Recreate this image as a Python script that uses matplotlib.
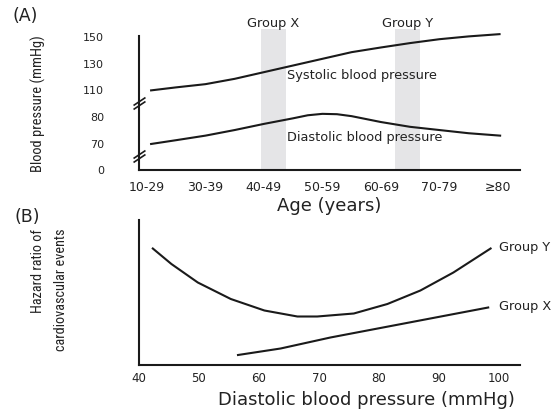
import os
import matplotlib
matplotlib.use("Agg")
import matplotlib.pyplot as plt
from matplotlib import font_manager as fm
from matplotlib.path import Path
import numpy as np

# ---- data ----
age_groups = ['10-29', '30-39', '40-49', '50-59', '60-69', '70-79', '≥80']
bp_ticks = [0, 70, 80, 110, 130, 150]

# curve samples (x = age-group index)
sys_x = [0.07, 0.5, 1, 1.5, 2, 2.5, 3, 3.5, 4, 4.5, 5, 5.5, 6.03]
systolic = [109, 111.6, 114, 118, 123, 128, 133, 138, 141.5, 144.8, 147.7, 149.8, 151.5]
dia_x = [0.07, 0.5, 1, 1.5, 2, 2.5, 2.75, 3.0, 3.25, 3.5, 4, 4.5, 5, 5.5, 6.04]
diastolic = [67, 71, 72.7, 74.8, 77.1, 79.2, 81.0, 82.6, 82.2, 80.0, 77.8, 76.0, 74.8, 73.6, 72.7]

group_names = ['Group X', 'Group Y']
group_band_center = [2.165, 4.457]
group_band_width = 0.43
group_band_top = 155.4

# panel B
dbp_ticks = [40, 50, 60, 70, 80, 90, 100]
grp_y_dbp = [42.3, 45.4, 49.8, 55.3, 60.9, 66.4, 69.7, 75.8, 81.4, 86.9, 92.4, 98.6]
grp_y_hr = [2.33, 2.02, 1.65, 1.32, 1.09, 0.97, 0.97, 1.03, 1.22, 1.49, 1.85, 2.33]
grp_x_dbp = [56.5, 63.6, 71.9, 98.2]
grp_x_hr = [0.20, 0.33, 0.55, 1.15]

ink = '#1a1a1a'


def pick_narrow():
    # first condensed / narrow face that is actually installed
    for fam, st in [('Liberation Sans Narrow', 'normal'), ('Arial Narrow', 'normal'),
                    ('Roboto Condensed', 'normal'), ('Noto Sans', 'condensed'),
                    ('DejaVu Sans', 'condensed')]:
        try:
            p = fm.findfont(fm.FontProperties(family=fam, stretch=st),
                            fallback_to_default=False)
        except Exception:
            continue
        name = os.path.basename(p).lower()
        if 'narrow' in name or 'condensed' in name:
            return fm.FontProperties(fname=p)
    return fm.FontProperties(family='Liberation Sans')


narrow = pick_narrow()

W, H = 559, 410
fig = plt.figure(figsize=(W / 100, H / 100), dpi=100)


def box(l, t, r, b):
    return [l / W, 1 - b / H, (r - l) / W, (b - t) / H]


slots = np.arange(len(bp_ticks), dtype=float)


def to_slot(v):
    v = np.asarray(v, float)
    return np.where(v > 150, 5 + (v - 150) / 20,
                    np.where(v < 0, v / 70, np.interp(v, bp_ticks, slots)))


def from_slot(p):
    p = np.asarray(p, float)
    return np.where(p > 5, 150 + (p - 5) * 20,
                    np.where(p < 0, p * 70, np.interp(p, slots, bp_ticks)))


# ---------------- panel A ----------------
axA = fig.add_axes(box(139, 28, 520, 170.5))
axA.set_yscale('function', functions=(to_slot, from_slot))
axA.bar(group_band_center, group_band_top, width=group_band_width,
        color='#e5e5e7', zorder=0)
axA.plot(sys_x, systolic, color=ink, lw=1.5)
axA.plot(dia_x, diastolic, color=ink, lw=1.5)
axA.set_xlim(-0.137, 6.38)
axA.set_ylim(0, 156.86)
axA.set_xticks(range(len(age_groups)), age_groups)
axA.set_yticks(bp_ticks)
axA.tick_params(axis='x', length=0, pad=7.3, labelsize=9, labelcolor='#222')
axA.tick_params(axis='y', length=0, pad=25, labelsize=8, labelcolor='#222')
for s in ['top', 'right']:
    axA.spines[s].set_visible(False)
axA.spines['left'].set_bounds(0, 150)
for s in ['left', 'bottom']:
    axA.spines[s].set_linewidth(1.5)
    axA.spines[s].set_color(ink)

for name, c in zip(group_names, group_band_center):
    axA.text(c, 1.035, name, transform=axA.get_xaxis_transform(),
             ha='center', va='center', fontsize=9.3, color='#222')
axA.text(2.395, 121.6, 'Systolic blood pressure', ha='left', va='center',
         fontsize=9.3, color='#222')
axA.text(2.395, 72.2, 'Diastolic blood pressure', ha='left', va='center',
         fontsize=9.3, color='#222')

# axis break marks
brk = Path([(-6, -6), (6, 2), (-6, -2), (6, 6)],
           [Path.MOVETO, Path.LINETO, Path.MOVETO, Path.LINETO])
axA.plot([-0.137, -0.137], [95, 35], ls='none', marker=brk, ms=8.6,
         mec=ink, mew=1.2, clip_on=False)

axA.set_xlabel('Age (years)', fontsize=13, va='center', color='#222')
axA.xaxis.set_label_coords(0.5, -0.25)
ylabA = axA.set_ylabel('Blood pressure (mmHg)', fontproperties=narrow,
                       va='center', color='#222')
axA.yaxis.set_label_coords(-0.265, 0.4716)

# ---------------- panel B ----------------
axB = fig.add_axes(box(139, 221, 520, 366))
axB.plot(grp_y_dbp, grp_y_hr, color=ink, lw=1.5)
axB.plot(grp_x_dbp, grp_x_hr, color=ink, lw=1.5)
axB.set_xlim(40.2, 103.5)
axB.set_ylim(0, 2.9)
axB.set_xticks(dbp_ticks)
axB.set_yticks([])
axB.tick_params(axis='x', length=0, pad=4.6, labelsize=8.5, labelcolor='#222')
for s in ['top', 'right']:
    axB.spines[s].set_visible(False)
for s in ['left', 'bottom']:
    axB.spines[s].set_linewidth(1.5)
    axB.spines[s].set_color(ink)

axB.text(100.0, 2.37, 'Group Y', ha='left', va='center', fontsize=9.3,
         color='#222', clip_on=False)
axB.text(100.0, 1.19, 'Group X', ha='left', va='center', fontsize=9.3,
         color='#222', clip_on=False)

axB.set_xlabel('Diastolic blood pressure (mmHg)', fontsize=13, va='center',
               color='#222')
axB.xaxis.set_label_coords(0.598, -0.234)
ylabB = axB.set_ylabel('Hazard ratio of\ncardiovascular events',
                       fontproperties=narrow, va='center', linespacing=1.75,
                       multialignment='right', color='#222')
axB.yaxis.set_label_coords(-0.235, 0.524)

# size the narrow labels so their length roughly matches the reference
renderer = fig.canvas.get_renderer()
for lab, target in [(ylabA, 136), (ylabB, 122)]:
    lab.set_fontsize(10)
    length = lab.get_window_extent(renderer).height
    lab.set_fontsize(10 * target / length)

fig.text(12.7 / W, 1 - 16 / H, '(A)', fontsize=12.5, va='center', color='#222')
fig.text(15 / W, 1 - 216.7 / H, '(B)', fontsize=12.5, va='center', color='#222')

fig.savefig('out.png', dpi=100)
